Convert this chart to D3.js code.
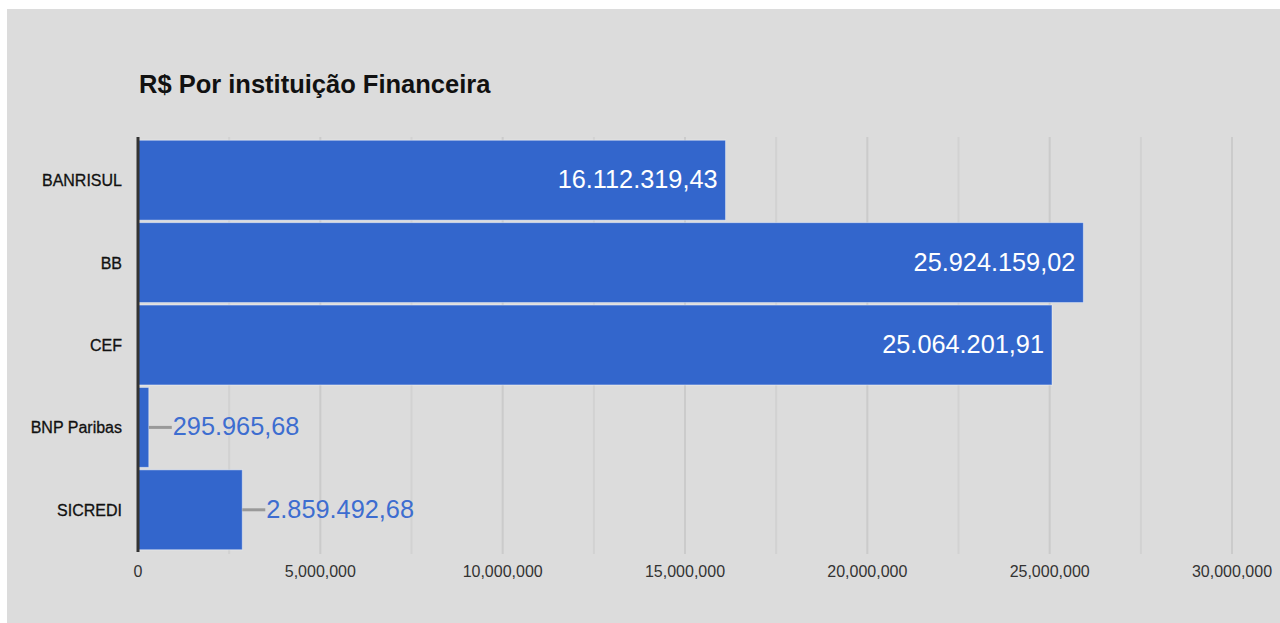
<!DOCTYPE html>
<head>
    <style>
        body { margin: 0; background: #fff; }
        svg { display: block; font-family: "Liberation Sans", Arial, sans-serif; }
    </style>
</head>
<body>
    <script src="https://cdn.jsdelivr.net/npm/d3@7"></script>
    <script>
        const w = 1280, h = 623;

        const categories = ["BANRISUL", "BB", "CEF", "BNP Paribas", "SICREDI"];
        const values = [16112319.43, 25924159.02, 25064201.91, 295965.68, 2859492.68];
        const majorTicks = [0, 5000000, 10000000, 15000000, 20000000, 25000000, 30000000];
        const minorTicks = [2500000, 7500000, 12500000, 17500000, 22500000, 27500000];
        const title = "R$ Por instituição Financeira";

        const data = categories.map((c, i) => ({ name: c, value: values[i] }));

        const br = d3.formatLocale({ decimal: ",", thousands: ".", grouping: [3], currency: ["R$", ""] });
        const fmtValue = br.format(",.2f");
        const fmtTick = d3.format(",");

        const m = { left: 138, right: 48, top: 139, bottom: 72 };

        var svg = d3.select('body')
                    .append('svg')
                    .attr('width', w)
                    .attr('height', h);

        // grey panel
        svg.append('rect')
           .attr('x', 7).attr('y', 9)
           .attr('width', w - 7).attr('height', h - 9)
           .attr('fill', '#dcdcdc');

        const x = d3.scaleLinear()
                    .domain([0, 30000000])
                    .range([m.left, w - m.right]);

        const y = d3.scaleBand()
                    .domain(categories)
                    .range([m.top, h - m.bottom])
                    .paddingInner(0.03)
                    .paddingOuter(0.015);

        // gridlines
        svg.append('g')
           .selectAll('line.minor')
           .data(minorTicks)
           .enter()
           .append('line')
           .attr('x1', d => x(d)).attr('x2', d => x(d))
           .attr('y1', m.top - 2).attr('y2', h - m.bottom + 3)
           .attr('stroke', '#d2d2d2')
           .attr('stroke-width', 2);

        svg.append('g')
           .selectAll('line.major')
           .data(majorTicks.slice(1))
           .enter()
           .append('line')
           .attr('x1', d => x(d)).attr('x2', d => x(d))
           .attr('y1', m.top - 2).attr('y2', h - m.bottom + 3)
           .attr('stroke', '#cbcbcb')
           .attr('stroke-width', 2);

        // tick labels
        svg.append('g')
           .selectAll('text')
           .data(majorTicks)
           .enter()
           .append('text')
           .attr('x', d => x(d))
           .attr('y', 577)
           .attr('text-anchor', 'middle')
           .attr('font-size', 16)
           .attr('fill', '#333')
           .text(d => fmtTick(d));

        // bars
        svg.append('g')
           .selectAll('rect')
           .data(data)
           .enter()
           .append('rect')
           .attr('x', x(0))
           .attr('y', d => y(d.name))
           .attr('width', d => x(d.value) - x(0))
           .attr('height', y.bandwidth())
           .attr('fill', '#3366cc')
           .attr('stroke', 'rgba(255,255,255,0.45)')
           .attr('stroke-width', 1);

        // category labels
        svg.append('g')
           .selectAll('text')
           .data(categories)
           .enter()
           .append('text')
           .attr('x', 122)
           .attr('y', d => y(d) + y.bandwidth() / 2 + 6)
           .attr('text-anchor', 'end')
           .attr('font-size', 16)
           .attr('fill', '#111')
           .attr('stroke', '#111')
           .attr('stroke-width', 0.3)
           .text(d => d);

        // value labels
        const labels = svg.append('g');
        data.forEach(d => {
            const txt = fmtValue(d.value);
            const cy = y(d.name) + y.bandwidth() / 2;
            const t = labels.append('text')
                            .attr('y', cy + 8)
                            .attr('font-size', 25.3)
                            .text(txt);
            const tw = t.node().getComputedTextLength();
            const bw = x(d.value) - x(0);
            if (bw > tw + 20) {
                t.attr('x', x(d.value) - 8)
                 .attr('text-anchor', 'end')
                 .attr('fill', '#fff');
            } else {
                labels.append('line')
                      .attr('x1', x(d.value)).attr('x2', x(d.value) + 23)
                      .attr('y1', cy).attr('y2', cy)
                      .attr('stroke', '#999')
                      .attr('stroke-width', 3);
                t.attr('x', x(d.value) + 24)
                 .attr('fill', '#3d6dd0');
            }
        });

        // baseline axis
        svg.append('line')
           .attr('x1', x(0)).attr('x2', x(0))
           .attr('y1', m.top - 2).attr('y2', h - m.bottom + 1)
           .attr('stroke', '#333')
           .attr('stroke-width', 3);

        // title
        svg.append('text')
           .attr('x', 139)
           .attr('y', 93)
           .attr('font-size', 25.5)
           .attr('font-weight', 'bold')
           .attr('fill', '#111')
           .text(title);
    </script>
</body>
